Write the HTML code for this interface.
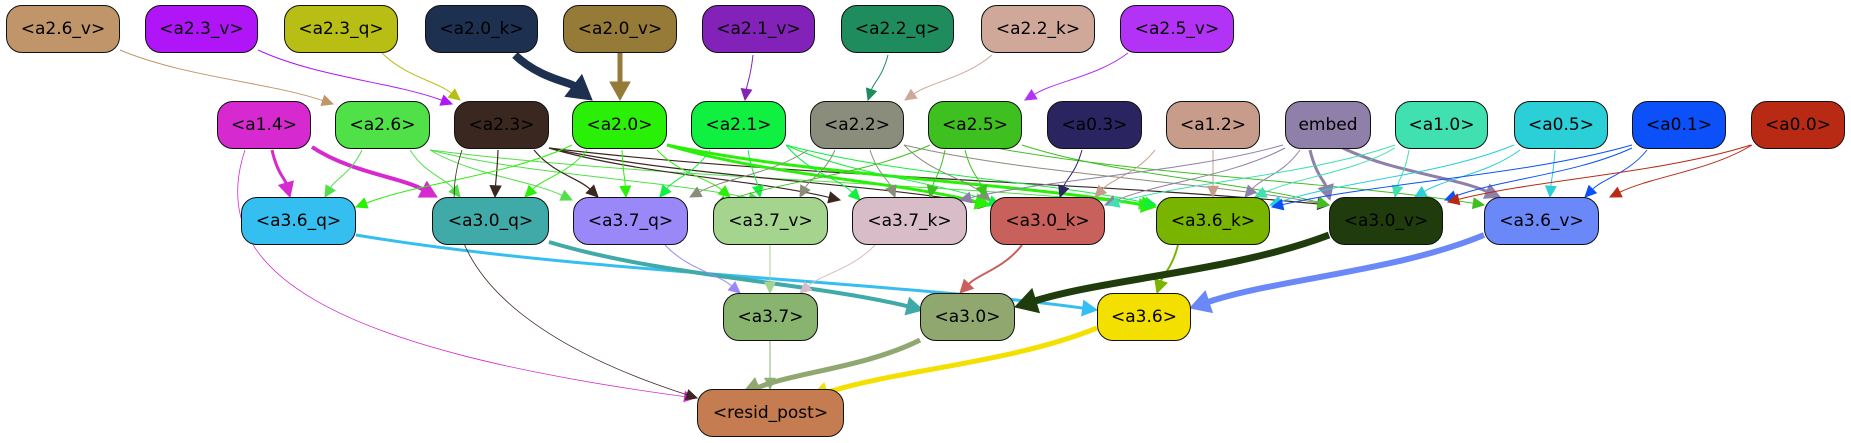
<!DOCTYPE html>
<html><head><meta charset="utf-8"><style>
body{margin:0;background:#fff;width:1851px;height:443px;overflow:hidden;position:relative;font-family:"DejaVu Sans","Liberation Sans",sans-serif}
.n{position:absolute;box-sizing:border-box;border:1.5px solid #111;border-radius:16px;display:flex;align-items:center;justify-content:center;font-size:17px;color:#000;z-index:2}
svg{position:absolute;left:0;top:0;z-index:1}
</style></head><body>
<svg id="s" width="1851" height="443"></svg>
<div id="nodes"></div>
<script>
const N={
'a2.6_v':[6,5,114,'#c0956a'],'a2.3_v':[145,5,113,'#b015f8'],'a2.3_q':[284,5,114,'#b8be14'],'a2.0_k':[425,5,113,'#1e3050'],
'a2.0_v':[563,5,114,'#957a38'],'a2.1_v':[702,5,113,'#8322b8'],'a2.2_q':[841,5,113,'#1f8c5e'],'a2.2_k':[981,5,114,'#cfa89a'],'a2.5_v':[1120,5,114,'#b232f5'],
'a1.4':[217,101,94,'#d62ad0'],'a2.6':[335,101,95,'#50e048'],'a2.3':[454,101,95,'#3a2820'],'a2.0':[572,101,95,'#2af007'],'a2.1':[691,101,95,'#10f040'],
'a2.2':[810,101,94,'#8a8c7c'],'a2.5':[928,101,94,'#3ec020'],'a0.3':[1047,101,95,'#2a2460'],'a1.2':[1166,101,94,'#c89c8a'],'embed':[1285,101,86,'#8e80a8'],
'a1.0':[1395,101,93,'#40e0b0'],'a0.5':[1514,101,94,'#2acfd8'],'a0.1':[1632,101,94,'#0b50f8'],'a0.0':[1751,101,94,'#b82a14'],
'a3.6_q':[241,197,115,'#35bef0'],'a3.0_q':[432,197,117,'#40aaa8'],'a3.7_q':[573,197,115,'#9a88f8'],'a3.7_v':[713,197,115,'#a4d48e'],
'a3.7_k':[852,197,115,'#d8bcc8'],'a3.0_k':[990,197,115,'#c8605c'],'a3.6_k':[1156,197,114,'#78b400'],'a3.0_v':[1329,197,114,'#203c0c'],'a3.6_v':[1484,197,115,'#6a88f8'],
'a3.7':[723,293,95,'#88b470'],'a3.0':[920,293,95,'#90a870'],'a3.6':[1097,293,94,'#f4e000'],'resid_post':[697,389,147,'#c47c50']};
let h='';for(const k in N){const [x,y,w,c]=N[k];const t=k=='embed'?'embed':'&lt;'+k+'&gt;';
h+=`<div class="n" style="left:${x}px;top:${y}px;width:${w}px;height:48px;background:${c}">${t}</div>`}
document.getElementById('nodes').innerHTML=h;
const E=[
[120,50,333,104,'#c0956a',1],[258,50,452,104,'#b015f8',1],[382,53,460,100,'#b8be14',1],[515,55,592,100,'#1e3050',8],[620,53,620,100,'#957a38',5],
[753,55,745,100,'#8322b8',1],[888,55,868,100,'#1f8c5e',1],[992,55,905,100,'#cfa89a',1],[1128,53,1025,100,'#b232f5',1],
[272,150,290,197,'#d62ad0',3],[312,147,437,197,'#d62ad0',4],
[362,150,325,197,'#50e048',1],[410,150,460,197,'#50e048',1],[430,150,572,200,'#50e048',1],[430,150,760,200,'#50e048',1],[430,150,1150,205,'#50e048',1],
[498,150,495,197,'#3a2820',1.2],[534,150,598,197,'#3a2820',1.2],[549,148,840,200,'#3a2820',1.2],[549,148,990,205,'#3a2820',1.2],[549,148,1329,205,'#3a2820',1.2],
[572,145,356,207,'#2af007',1],[587,150,525,197,'#2af007',1],[622,150,626,197,'#2af007',1],[657,150,730,197,'#2af007',1],[667,145,990,205,'#2af007',3],[667,145,1156,207,'#2af007',3],
[710,150,660,197,'#10f040',1],[748,150,760,197,'#10f040',1],[786,145,1000,205,'#10f040',1],[786,145,860,200,'#10f040',1],[786,145,1156,205,'#10f040',1],
[808,150,690,197,'#8a8c7c',1],[835,150,800,197,'#8a8c7c',1],[870,150,895,197,'#8a8c7c',1],[904,145,990,200,'#8a8c7c',1],[904,145,1329,205,'#8a8c7c',1],
[945,150,930,197,'#3ec020',1],[965,150,985,197,'#3ec020',1],[930,145,715,205,'#3ec020',1],[980,145,1484,205,'#3ec020',1],[1022,145,1329,205,'#3ec020',1],
[1082,150,1060,197,'#2a2460',1],[1155,150,1095,197,'#c89c8a',1],[1213,150,1213,197,'#c89c8a',1],
[1283,145,960,200,'#8e80a8',1],[1285,148,1105,205,'#8e80a8',1],[1300,150,1245,197,'#8e80a8',1],[1310,150,1330,200,'#8e80a8',3],[1337,145,1500,197,'#8e80a8',3],
[1395,145,1108,205,'#40e0b0',1],[1395,148,1255,197,'#40e0b0',1],[1409,150,1395,197,'#40e0b0',1],
[1514,145,1270,205,'#2acfd8',1],[1520,150,1415,197,'#2acfd8',1],[1555,150,1550,197,'#2acfd8',1],
[1632,145,1272,207,'#0b50f8',1],[1632,148,1445,200,'#0b50f8',1],[1647,150,1585,197,'#0b50f8',1],
[1751,145,1448,202,'#b82a14',1],[1752,145,1610,197,'#b82a14',1],
[356,235,1097,310,'#35bef0',3],[549,242,923,310,'#40aaa8',4],[665,245,740,293,'#9a88f8',1],[770,245,770,293,'#a4d48e',1],[875,245,800,293,'#d8bcc8',1],
[1022,245,960,293,'#c8605c',2],[1178,245,1157,293,'#78b400',2],[1329,235,1015,307,'#203c0c',7],[1484,235,1190,308,'#6a88f8',6],
[770,341,770,389,'#88b470',1],[920,340,742,394,'#90a870',5],[1097,328,810,398,'#f4e000',5],
[245,150,695,398,'#d62ad0',0.8,1],[462,150,697,398,'#3a2820',0.8,1]];
let s='';
for(const e of E){let [x1,y1,x2,y2,c,w,cv]=e;
let c1,c2;
if(cv){c1=[x1-40,y1+120];c2=[x1+80,y2-50];}
else{const dy=y2-y1,dx=x2-x1;c1=[x1+dx*0.3,y1+dy*0.5];c2=[x2-dx*0.3,y2-dy*0.4];}
let tx=x2-c2[0],ty=y2-c2[1],L=Math.hypot(tx,ty);tx/=L;ty/=L;
const al=9+w*1.8,aw=4+w*1.2;const bx=x2-tx*al,by=y2-ty*al;
s+=`<path d="M${x1},${y1} C${c1[0]},${c1[1]} ${c2[0]},${c2[1]} ${bx},${by}" fill="none" stroke="${c}" stroke-width="${w}"/>`;
s+=`<polygon points="${x2},${y2} ${bx-ty*aw},${by+tx*aw} ${bx+ty*aw},${by-tx*aw}" fill="${c}" stroke="${c}"/>`;}
document.getElementById('s').innerHTML=s;
</script>
</body></html>
